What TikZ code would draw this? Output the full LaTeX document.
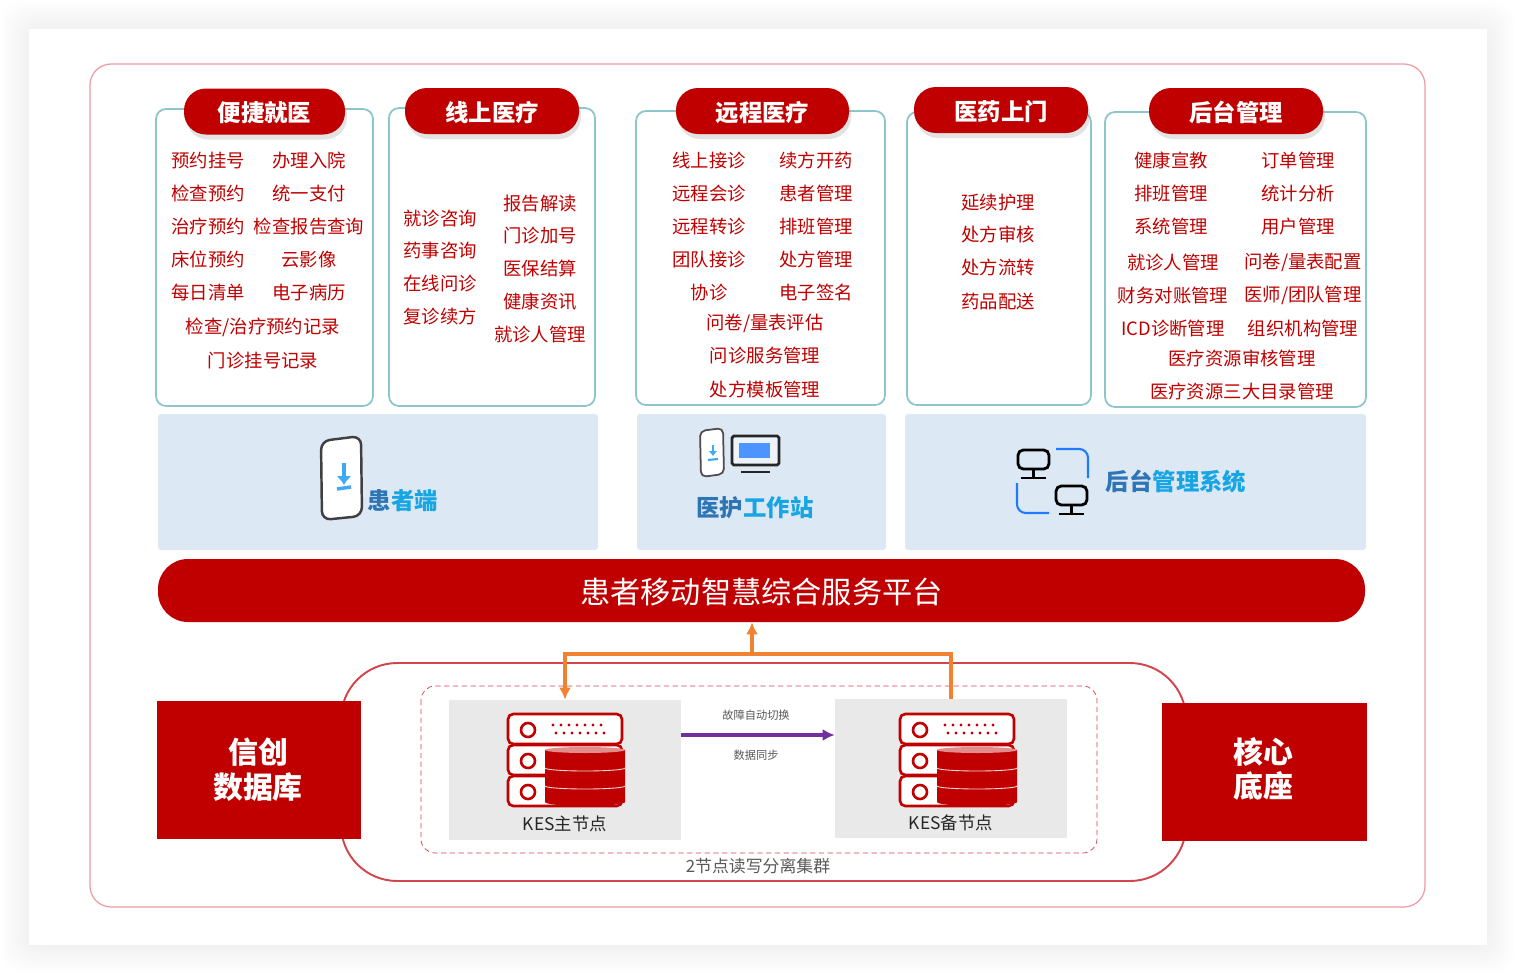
\documentclass[tikz,border=0pt]{standalone}
\usepackage{fontspec}
\setmainfont{Noto Sans CJK SC}
\usetikzlibrary{shadows, arrows.meta}

\newcommand{\pxunit}{0.02cm}

\definecolor{kesred}{HTML}{C00000}
\definecolor{frameline}{HTML}{EE9CA0}
\definecolor{clusterline}{HTML}{D2454C}
\definecolor{cardline}{HTML}{8CC6CA}
\definecolor{panelfill}{HTML}{DCE8F4}
\definecolor{nodefill}{HTML}{E9E9E9}
\definecolor{linkorange}{HTML}{F08232}
\definecolor{linkpurple}{HTML}{7030A0}
\definecolor{darkblue}{HTML}{2E75B6}
\definecolor{lightblue}{HTML}{18A5E4}
\definecolor{arrowblue}{HTML}{3FA9F5}
\definecolor{cornerblue}{HTML}{1E7BFF}
\definecolor{screenblue}{HTML}{4D94FF}

\tikzset{
  cardbox/.style={draw=cardline, line width=1pt, fill=white, rounded corners=10*\pxunit, inner sep=0},
  titlepill/.style={fill=kesred, text=white, rounded corners=22*\pxunit, inner sep=0, minimum height=46*\pxunit,
    text depth=0, font=\fontsize{13.3}{15}\selectfont\bfseries, drop shadow={opacity=.22, shadow xshift=.04cm, shadow yshift=-.1cm}},
  itemtext/.style={text=kesred, inner sep=0, yshift=-.5*\pxunit, font=\fontsize{10.45}{12}\selectfont},
  panelbox/.style={fill=panelfill, rounded corners=3*\pxunit, inner sep=0, minimum height=136*\pxunit},
  paneltext/.style={inner sep=0, font=\fontsize{13.3}{15}\selectfont\bfseries},
  redblock/.style={fill=kesred, inner sep=0},
  blocktext/.style={text=white, inner sep=0, align=center, font=\fontsize{17}{19.8}\selectfont\bfseries},
  nodebox/.style={fill=nodefill, inner sep=0, minimum width=232*\pxunit},
  graytext/.style={text=black!65, inner sep=0},
  orangeline/.style={draw=linkorange, line width=2pt},
  kesserver/.pic={
    % Draw the three rack rows
    \foreach \y in {0,31,62} {
      \draw[kesred, line width=1.5pt, fill=white, rounded corners=3] (0,\y) rectangle (114,\y+30);
      \draw[kesred, line width=1.5pt, fill=white] (20,\y+16) circle (7);
    }
    \foreach \x in {45,53,...,93} {
      \fill[kesred] (\x,11) circle (1.7);
      \fill[kesred] (\x+3,19) circle (1.7);
    }
    % Draw the database drum
    \fill[kesred] (37,36) -- (37,88) arc (180:0:40 and 4) -- (117,36) -- cycle;
    \fill[kesred!45!white] (77,36) ellipse (40 and 3);
    \foreach \y in {54,72} {
      \draw[white!85!kesred, line width=.5pt] (37,\y) arc (180:0:40 and 3);
    }
  }
}

\begin{document}
\begin{tikzpicture}[x=\pxunit, y=-\pxunit]
  \useasboundingbox (0,0) rectangle (1516,974);

  % Draw the soft sheet shadow
  \foreach \d in {28,26,...,2} {
    \fill[black, opacity=.004, rounded corners=12] (29-\d,29-\d) rectangle (1487+\d,945+\d);
  }
  \fill[white] (29,29) rectangle (1487,945);
  \draw[frameline, line width=.7pt, rounded corners=12] (90,64) rectangle (1425,907);

  % Draw cards
  \node[cardbox, minimum width=217*\pxunit, minimum height=297*\pxunit] (easycard) at (264.5,257.5) {};
  \node[cardbox, minimum width=206*\pxunit, minimum height=298*\pxunit] (onlinecard) at (492,257) {};
  \node[cardbox, minimum width=249*\pxunit, minimum height=294*\pxunit] (remotecard) at (760.5,258) {};
  \node[cardbox, minimum width=184*\pxunit, minimum height=293*\pxunit] (pharmacard) at (999,258.5) {};
  \node[cardbox, minimum width=261*\pxunit, minimum height=295*\pxunit] (admincard) at (1235.5,259.5) {};

  % Draw card titles
  \node[titlepill, minimum width=161*\pxunit] (easytitle) at (264.5,111.5) {便捷就医};
  \node[titlepill, minimum width=174*\pxunit] (onlinetitle) at (492,111) {线上医疗};
  \node[titlepill, minimum width=173*\pxunit] (remotetitle) at (762.5,111) {远程医疗};
  \node[titlepill, minimum width=174*\pxunit] (pharmatitle) at (1001,110) {医药上门};
  \node[titlepill, minimum width=174*\pxunit] (admintitle) at (1236,111) {后台管理};

  % Card entries
  \foreach \x/\y/\t in {208/160/预约挂号, 309/160/办理入院, 208/193/检查预约, 309/193/统一支付,
      208/226/治疗预约, 309/226/检查报告查询, 208/259/床位预约, 309/259/云影像,
      208/292/每日清单, 309/292/电子病历, 263/327/检查{/}治疗预约记录, 263/360/门诊挂号记录,
      440/218/就诊咨询, 440/250/药事咨询, 440/283/在线问诊, 440/316/复诊续方,
      540/203/报告解读, 540/235/门诊加号, 540/268/医保结算, 540/301/健康资讯, 540/334/就诊人管理,
      709/160/线上接诊, 816/160/续方开药, 709/193/远程会诊, 816/193/患者管理,
      709/226/远程转诊, 816/226/排班管理, 709/259/团队接诊, 816/259/处方管理,
      709/292/协诊, 816/292/电子签名, 765/323/问卷{/}量表评估, 765/355/问诊服务管理, 765/389/处方模板管理,
      998/202/延续护理, 998/234/处方审核, 998/267/处方流转, 998/301/药品配送,
      1171/160/健康宣教, 1298/160/订单管理, 1171/193/排班管理, 1298/193/统计分析,
      1171/226/系统管理, 1298/226/用户管理, 1173/262/就诊人管理, 1303/262/问卷{/}量表配置,
      1173/295/财务对账管理, 1303/295/医师{/}团队管理, 1173/328/ICD诊断管理, 1303/328/组织机构管理,
      1242/358/医疗资源审核管理, 1242/391/医疗资源三大目录管理} {
    \node[itemtext] (item\x-\y) at (\x,\y) {\t};
  }

  % Draw client panels
  \node[panelbox, minimum width=440*\pxunit] (patientpanel) at (378,482) {};
  \node[panelbox, minimum width=249*\pxunit] (staffpanel) at (761.5,482) {};
  \node[panelbox, minimum width=461*\pxunit] (adminpanel) at (1135.5,482) {};
  \node[paneltext] (patientlabel) at (403,501) {\textcolor{darkblue}{患}\textcolor{lightblue}{者端}};
  \node[paneltext] (stafflabel) at (755,508) {\textcolor{darkblue}{医护}\textcolor{lightblue}{工作站}};
  \node[paneltext] (adminlabel) at (1176,481) {\textcolor{darkblue}{后台}\textcolor{lightblue}{管理系统}};

  % Patient phone
  \draw[black!75, fill=white, line width=1.4pt, rounded corners=5] (321,441) -- (361,436) -- (362,516) -- (322,520) -- cycle;
  \draw[arrowblue, line width=2pt, -{Latex[length=9*\pxunit, width=15*\pxunit]}] (344,463) -- (344,485);
  \draw[arrowblue, line width=2pt] (337,489) -- (351,487);

  % Staff phone and monitor
  \draw[black!70, fill=white, line width=1pt, rounded corners=3] (700,431) -- (723,428) -- (724,474) -- (701,477) -- cycle;
  \draw[arrowblue, line width=1.2pt, -{Latex[length=5*\pxunit, width=9*\pxunit]}] (713,445) -- (713,456);
  \draw[arrowblue, line width=1.2pt] (708,460) -- (718,459);
  \draw[black!85, fill=panelfill!50!white, line width=1.6pt, rounded corners=1] (732,436) rectangle (779,465);
  \fill[screenblue] (739,443) rectangle (770,458);
  \draw[black!85, line width=1.3pt] (741,472) -- (770,472);

  % Admin monitors
  \foreach \x/\y in {1018/450, 1056/486} {
    \draw[black, line width=1.6pt, rounded corners=3] (\x,\y) rectangle (\x+31,\y+19);
    \draw[black, line width=1.6pt] (\x+15.5,\y+19) -- (\x+15.5,\y+28) (\x+3,\y+28) -- (\x+28,\y+28);
  }
  \draw[cornerblue, line width=1.2pt, rounded corners=5] (1056,449) -- (1088,449) -- (1088,478);
  \draw[cornerblue, line width=1.2pt, rounded corners=5] (1017,483) -- (1017,513) -- (1049,513);

  % Draw platform bar
  \node[fill=kesred, text=white, inner sep=0, rounded corners=30*\pxunit, minimum width=1207*\pxunit, minimum height=63*\pxunit,
    text depth=0, font=\fontsize{17.2}{20}\selectfont] (platform) at (761.5,590.5) {患者移动智慧综合服务平台};

  % Draw database cluster
  \draw[clusterline, line width=1.1pt, rounded corners=32] (341,663) rectangle (1186,881);
  \node[redblock, minimum width=204*\pxunit, minimum height=138*\pxunit] (xinchuang) at (258.5,770) {};
  \node[redblock, minimum width=205*\pxunit, minimum height=138*\pxunit] (corebase) at (1264.5,771.5) {};
  \node[blocktext] (xinchuanglabel) at (258,770) {信创\\数据库};
  \node[blocktext] (corelabel) at (1263.5,769) {核心\\底座};
  \draw[clusterline, densely dashed, line width=.4pt, rounded corners=8] (421,686) rectangle (1097,853);

  \node[nodebox, minimum height=140*\pxunit] (mainbox) at (565,770) {};
  \node[nodebox, minimum height=139*\pxunit] (backupbox) at (951,768.5) {};
  \pic at (508,714) {kesserver};
  \pic at (900,714) {kesserver};
  \node[graytext, text=black!85, yshift=-1*\pxunit, font=\fontsize{9.9}{12}\selectfont] (mainlabel) at (565,823) {KES主节点};
  \node[graytext, text=black!85, yshift=-1*\pxunit, font=\fontsize{9.9}{12}\selectfont] (backuplabel) at (951,822) {KES备节点};
  \node[graytext, font=\fontsize{6.4}{8}\selectfont] (failover) at (756,715) {故障自动切换};
  \node[graytext, font=\fontsize{6.4}{8}\selectfont] (datasync) at (756,755) {数据同步};
  \node[graytext, font=\fontsize{9.6}{12}\selectfont] (clusterlabel) at (758,866) {2节点读写分离集群};

  % Draw links
  \coordinate (junction) at (752,654);
  \draw[orangeline, -{Latex[length=12*\pxunit, width=12*\pxunit]}] (backupbox.north) |- (junction) -| (mainbox.north);
  \draw[orangeline, -{Latex[length=12*\pxunit, width=12*\pxunit]}] (junction) -- (junction |- platform.south);
  \draw[linkpurple, line width=2pt, -{Latex[length=12*\pxunit, width=12*\pxunit]}] (mainbox.east |- 0,735) -- (backupbox.west |- 0,735);
\end{tikzpicture}
\end{document}
